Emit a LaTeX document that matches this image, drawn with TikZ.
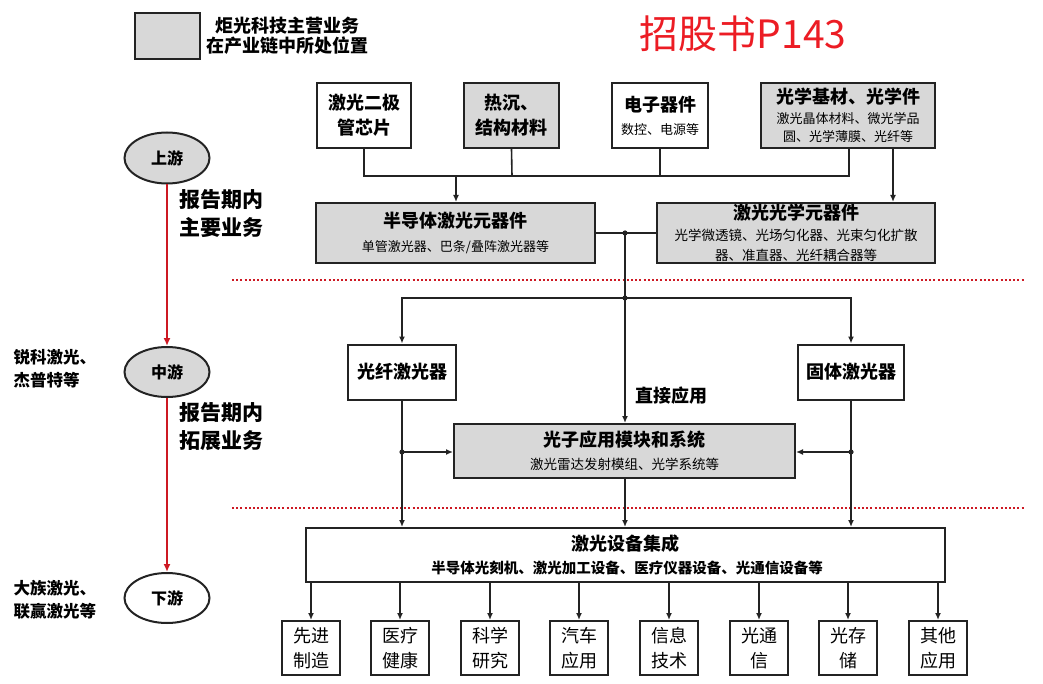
\documentclass[tikz,border=0pt]{standalone}
\usepackage{fontspec}
\setmainfont{Noto Sans CJK SC}
\usetikzlibrary{arrows.meta,shapes.geometric}
\definecolor{boxgray}{RGB}{216,216,216}
\definecolor{edgecol}{RGB}{35,35,35}
\definecolor{redline}{RGB}{205,25,35}
\definecolor{titlered}{RGB}{236,28,36}
\newcommand{\myfs}[2]{\fontsize{#1}{#2}\selectfont}
\tikzset{
  box/.style={draw=edgecol, line width=2pt, fill=white, inner sep=0pt, align=center, font=\myfs{18}{25}\bfseries},
  gbox/.style={box, fill=boxgray},
  ell/.style={draw=edgecol, line width=2pt, ellipse, fill=white, inner sep=0pt, font=\myfs{16}{20}\bfseries},
  conn/.style={draw=edgecol, line width=1.6pt},
  arr/.style={conn, -{Latex[length=7pt,width=6pt]}},
  rarr/.style={draw=redline, line width=1.8pt, -{Latex[length=8pt,width=7pt]}},
  dotline/.style={draw=redline, line width=2pt, dash pattern=on 2pt off 2.2pt},
  side/.style={anchor=west, align=left, font=\myfs{21}{28}\bfseries},
  firm/.style={anchor=west, align=left, font=\myfs{16.5}{23}\bfseries},
  jdot/.style={fill=edgecol},
}
\begin{document}
\begin{tikzpicture}[x=1pt,y=-1pt]
\useasboundingbox (0,0) rectangle (1043,684);
% legend and title
\node[gbox, minimum width=65, minimum height=46] (leg) at (167.5,36) {};
\node[anchor=west, align=center, font=\myfs{18}{20}\bfseries] (legt) at (203,36) {炬光科技主营业务\\在产业链中所处位置};
\node[text=titlered, font=\myfs{39}{40}] (title) at (743,34) {招股书P143};
% top row
\node[box, minimum width=94, minimum height=65] (a1) at (364,115.5) {激光二极\\管芯片};
\node[gbox, minimum width=95, minimum height=65] (a2) at (511.5,115.5) {热沉、\\结构材料};
\node[box, minimum width=96, minimum height=65] (a3) at (660,115.5) {电子器件\\[-2pt]{\myfs{13}{17}\mdseries 数控、电源等}};
\node[gbox, minimum width=174, minimum height=65, font=\myfs{18}{18}\bfseries] (a4) at (848,115.5) {光学基材、光学件\\[2pt]{\myfs{13}{18}\mdseries 激光晶体材料、微光学品}\\{\myfs{13}{18}\mdseries 圆、光学薄膜、光纤等}};
% second row
\node[gbox, minimum width=279, minimum height=60] (b1) at (455.5,233) {半导体激光元器件\\[-1pt]{\myfs{13}{19}\mdseries 单管激光器、巴条/叠阵激光器等}};
\node[gbox, minimum width=278, minimum height=60, font=\myfs{18}{20}\bfseries] (b2) at (796,233) {激光光学元器件\\[1pt]{\myfs{13.5}{20}\mdseries 光学微透镜、光场匀化器、光束匀化扩散}\\{\myfs{13.5}{20}\mdseries 器、准直器、光纤耦合器等}};
% third row
\node[box, minimum width=108, minimum height=55] (c1) at (402,372) {光纤激光器};
\node[box, minimum width=106, minimum height=55] (c2) at (851,372) {固体激光器};
\node[gbox, minimum width=341, minimum height=54] (d) at (624.5,451) {光子应用模块和系统\\[-2pt]{\myfs{13.5}{19}\mdseries 激光雷达发射模组、光学系统等}};
\node[anchor=west, font=\myfs{18}{20}\bfseries] (direct) at (632,396) {直接应用};
% integration
\node[box, minimum width=639, minimum height=54] (e) at (625.5,555) {激光设备集成\\[-2pt]{\myfs{14.5}{19} 半导体光刻机、激光加工设备、医疗仪器设备、光通信设备等}};
% bottom boxes
\foreach \i/\x/\t in {1/311/先进\\制造, 2/400/医疗\\健康, 3/490/科学\\研究, 4/579/汽车\\应用, 5/669/信息\\技术, 6/759/光通\\信, 7/848/光存\\储, 8/938/其他\\应用}{
  \node[box, minimum width=58, minimum height=54, font=\myfs{18}{25}\mdseries] (f\i) at (\x,648) {\t};
  \draw[arr] (e.south -| f\i) -- (f\i.north);
}
% stream ellipses
\node[ell, fill=boxgray, minimum width=85, minimum height=51] (up) at (167,158) {上游};
\node[ell, fill=boxgray, minimum width=85, minimum height=50] (mid) at (167,372) {中游};
\node[ell, minimum width=85, minimum height=50] (down) at (167,598) {下游};
\draw[rarr] (up) -- (mid);
\draw[rarr] (mid) -- (down);
\node[side] (s1) at (176,214) {报告期内\\主要业务};
\node[side] (s2) at (176,427) {报告期内\\拓展业务};
\node[firm] (r1) at (10,369) {锐科激光、\\杰普特等};
\node[firm] (r2) at (10,600) {大族激光、\\联赢激光等};
% dotted separators
\coordinate (s1a) at (232,280); \coordinate (s1b) at (1025,280);
\coordinate (s2a) at (232,508); \coordinate (s2b) at (1025,508);
\draw[dotline] (s1a) -- (s1b);
\draw[dotline] (s2a) -- (s2b);
% upstream bus
\coordinate (j1) at (364,176); \coordinate (j2) at (512,176);
\coordinate (j3) at (660,176); \coordinate (j4) at (849,176);
\coordinate (jb) at (456,176); \coordinate (a4r) at (893,148);
\draw[conn] (a1.south) -- (j1) -- (j4) -- (j4 |- a4.south);
\draw[conn] (a2.south) -- (j2);
\draw[conn] (a3.south) -- (j3);
\draw[arr] (jb) -- (jb |- b1.north);
\draw[arr] (a4r) -- (a4r |- b2.north);
% midstream
\coordinate (k1) at (625,233); \coordinate (k2) at (625,298);
\coordinate (k2l) at (402,298); \coordinate (k2r) at (851,298);
\draw[conn] (b1.east) -- (b2.west);
\draw[conn] (k1) -- (k2);
\draw[arr] (k2) -- (k2l) -- (c1.north);
\draw[arr] (k2) -- (k2r) -- (c2.north);
\draw[arr] (k2) -- (k2 |- d.north);
\fill[jdot] (k1) circle (2.6);
\fill[jdot] (k2) circle (2.6);
\coordinate (k3) at (402,452); \coordinate (k4) at (851,452);
\draw[conn] (c1.south) -- (k3);
\draw[conn] (c2.south) -- (k4);
\draw[arr] (k3) -- (k3 -| d.west);
\draw[arr] (k4) -- (k4 -| d.east);
\draw[arr] (k3) -- (k3 |- e.north);
\draw[arr] (k4) -- (k4 |- e.north);
\draw[arr] (k2 |- d.south) -- (k2 |- e.north);
\fill[jdot] (k3) circle (2.6);
\fill[jdot] (k4) circle (2.6);
\end{tikzpicture}
\end{document}
